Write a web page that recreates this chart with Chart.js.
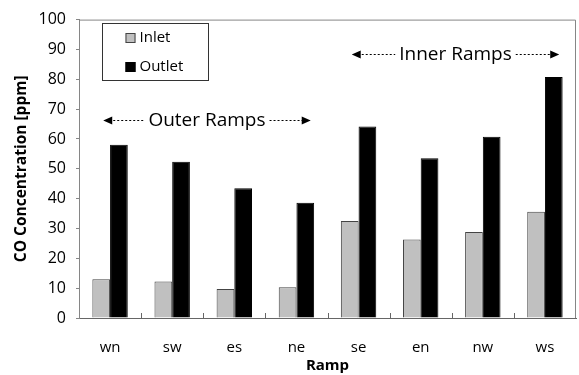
<!DOCTYPE html>
<html>
<head>
<meta charset="utf-8">
<script src="https://cdn.jsdelivr.net/npm/chart.js@4.4.1/dist/chart.umd.min.js"></script>
<style>
  html, body { margin: 0; padding: 0; background: #fff; }
  #wrap { width: 579px; height: 375px; position: relative; }
</style>
</head>
<body>
<div id="wrap"><canvas id="c"></canvas></div>
<script>
// CO concentration measured at each ramp
const ramps = ['wn', 'sw', 'es', 'ne', 'se', 'en', 'nw', 'ws'];
const inletValues = [13.0, 12.2, 9.7, 10.3, 32.5, 26.3, 28.8, 35.6];
const outletValues = [58.1, 52.4, 43.5, 38.6, 64.2, 53.5, 60.7, 80.8];
const yTicks = [0, 10, 20, 30, 40, 50, 60, 70, 80, 90, 100];
// group annotations: [label, first ramp, last ramp, value level]
const groups = [
  ['Outer Ramps', 'wn', 'ne', 66.2],
  ['Inner Ramps', 'se', 'ws', 88.6]
];

const FONT = '"Open Sans", "Noto Sans", sans-serif';
const AXIS_GRAY = '#868686';

// frame, inward category ticks, legend box and group arrows
const decorations = {
  id: 'decorations',
  afterDatasetsDraw(chart) {
    const ctx = chart.ctx;
    const a = chart.chartArea;
    const x = chart.scales.x, y = chart.scales.y;
    ctx.save();
    // top/right frame
    ctx.strokeStyle = AXIS_GRAY;
    ctx.lineWidth = 1;
    ctx.beginPath();
    ctx.moveTo(a.left, a.top + 0.5);
    ctx.lineTo(a.right - 0.5, a.top + 0.5);
    ctx.lineTo(a.right - 0.5, a.bottom);
    ctx.stroke();
    // category separators ticking upward from the axis
    ctx.strokeStyle = '#666';
    const step = x.getPixelForValue(1) - x.getPixelForValue(0);
    for (let i = 1; i < ramps.length; i++) {
      const px = Math.round(x.getPixelForValue(i) - step / 2) + 0.5;
      ctx.beginPath();
      ctx.moveTo(px, a.bottom);
      ctx.lineTo(px, a.bottom - 5);
      ctx.stroke();
    }
    // legend
    const lx = 102.5, ly = 23.5, lw = 106, lh = 57;
    ctx.fillStyle = '#fff';
    ctx.fillRect(lx, ly, lw, lh);
    ctx.strokeStyle = '#333';
    ctx.strokeRect(lx, ly, lw, lh);
    ctx.font = '15px ' + FONT;
    ctx.textBaseline = 'middle';
    chart.data.datasets.forEach((ds, i) => {
      const cy = ly + 14.5 + i * 29;
      ctx.fillStyle = ds.backgroundColor;
      ctx.fillRect(lx + 23, cy - 5, 10, 10);
      ctx.strokeStyle = ds.borderColor;
      ctx.strokeRect(lx + 23.5, cy - 4.5, 9, 9);
      ctx.fillStyle = '#000';
      ctx.textAlign = 'left';
      ctx.fillText(ds.label, lx + 37, cy);
    });
    // group annotations with dashed double arrows
    ctx.font = '19px ' + FONT;
    groups.forEach(([label, from, to, level]) => {
      const i0 = ramps.indexOf(from), i1 = ramps.indexOf(to);
      const left = x.getPixelForValue(i0) - step * 0.11;
      const right = x.getPixelForValue(i1) + step * 0.23;
      const cy = Math.round(y.getPixelForValue(level)) + 0.5;
      const cx = (left + right) / 2;
      const tw = ctx.measureText(label).width;
      ctx.fillStyle = '#000';
      ctx.textAlign = 'center';
      ctx.fillText(label, cx, cy);
      ctx.strokeStyle = '#000';
      ctx.setLineDash([2, 2]);
      ctx.beginPath();
      ctx.moveTo(left + 6, cy); ctx.lineTo(cx - tw / 2 - 4, cy);
      ctx.moveTo(cx + tw / 2 + 4, cy); ctx.lineTo(right - 6, cy);
      ctx.stroke();
      ctx.setLineDash([]);
      ctx.beginPath();
      ctx.moveTo(left, cy); ctx.lineTo(left + 9, cy - 4); ctx.lineTo(left + 9, cy + 4); ctx.closePath();
      ctx.moveTo(right, cy); ctx.lineTo(right - 9, cy - 4); ctx.lineTo(right - 9, cy + 4); ctx.closePath();
      ctx.fill();
    });
    ctx.restore();
  }
};

new Chart(document.getElementById('c'), {
  type: 'bar',
  data: {
    labels: ramps,
    datasets: [
      { label: 'Inlet', data: inletValues, backgroundColor: '#c0c0c0', borderColor: '#444', borderWidth: 1 },
      { label: 'Outlet', data: outletValues, backgroundColor: '#000', borderColor: '#000', borderWidth: 1 }
    ]
  },
  options: {
    responsive: true,
    maintainAspectRatio: false,
    animation: false,
    layout: { padding: { top: 17, right: 3, left: 0, bottom: 0 } },
    datasets: { bar: { categoryPercentage: 0.57, barPercentage: 1.0 } },
    plugins: { legend: { display: false }, tooltip: { enabled: false } },
    scales: {
      x: {
        grid: { display: false },
        border: { color: '#666', width: 1 },
        ticks: { color: '#000', font: { family: FONT, size: 15 }, padding: 13 },
        title: { display: true, text: 'Ramp', color: '#000', font: { family: FONT, size: 15, weight: 'bold' }, padding: { top: 0, bottom: 0 } },
        afterFit(s) { s.height = 57; }
      },
      y: {
        min: 0, max: 100,
        afterBuildTicks(s) { s.ticks = yTicks.map(v => ({ value: v })); },
        grid: { drawOnChartArea: false, color: AXIS_GRAY, tickLength: 3 },
        border: { color: AXIS_GRAY, width: 1 },
        ticks: { color: '#000', font: { family: FONT, size: 16 }, padding: 10 },
        title: { display: true, text: 'CO Concentration [ppm]', color: '#000', font: { family: FONT, size: 15.5, weight: 'bold' }, padding: { top: 12, bottom: 0 } },
        afterFit(s) { s.width = 79; }
      }
    }
  },
  plugins: [decorations]
});
</script>
</body>
</html>
